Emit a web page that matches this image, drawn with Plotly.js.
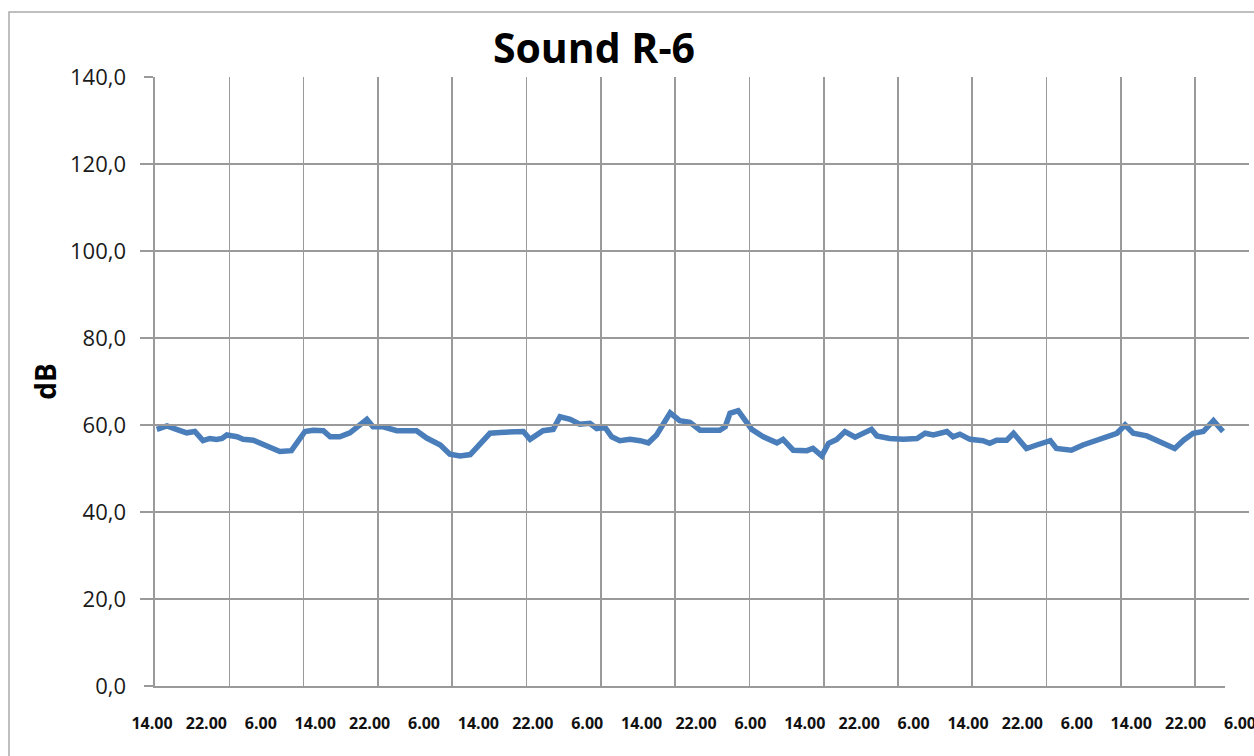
<!DOCTYPE html>
<html>
<head>
<meta charset="utf-8">
<script src="https://cdn.plot.ly/plotly-3.0.1.min.js"></script>
<style>html,body{margin:0;padding:0;background:#fff;}#chart{width:1254px;height:756px;}</style>
</head>
<body>
<div id="chart"></div>
<script>
// Sample times in hours since the first 14.00 mark
const hours = [0.7,2.2,3.6,5.1,6.3,7.1,7.5,8.5,9.5,10.3,11.0,12.5,13.4,14.9,16.4,17.8,18.8,20.5,21.3,22.5,
  23.7,25.2,26.2,27.6,29.1,30.6,31.6,32.5,34.0,36.0,38.9,40.4,42.4,43.8,45.3,46.8,47.8,49.7,51.2,52.6,
  54.6,55.6,56.6,57.5,59.0,60.0,61.5,62.9,64.4,65.4,66.6,67.6,68.8,70.3,71.8,73.0,74.2,75.2,76.2,77.6,
  79.1,80.6,82.1,83.5,84.3,85.0,86.2,87.2,88.2,89.9,91.9,92.8,94.3,96.3,97.2,98.5,99.5,100.7,101.9,103.4,
  104.6,105.8,106.6,108.5,110.5,112.5,113.7,114.9,116.9,117.8,118.8,120.3,122.2,123.2,124.2,125.7,126.7,127.6,128.6,130.1,
  132.1,133.0,135.2,136.9,138.9,140.9,141.9,143.1,144.3,146.3,148.2,150.4,151.7,153.1,154.6,156.1,157.1,157.5];
const soundDb = [59.0,59.8,59.0,58.2,58.5,57.3,56.4,56.9,56.7,56.9,57.7,57.3,56.7,56.5,55.6,54.6,53.9,54.1,55.8,58.5,
  58.8,58.7,57.3,57.3,58.2,60.2,61.3,59.6,59.6,58.7,58.7,57.0,55.4,53.3,52.9,53.2,55.0,58.1,58.3,58.3,
  58.5,56.7,57.7,58.7,59.0,61.9,61.3,60.2,60.4,59.2,59.5,57.3,56.4,56.7,56.4,55.9,57.7,60.4,62.8,61.0,
  60.6,58.8,58.8,58.8,59.6,62.7,63.3,61.2,59.0,57.3,55.9,56.7,54.2,54.1,54.6,52.9,55.8,56.7,58.5,57.2,
  58.1,59.0,57.5,56.9,56.7,56.9,58.1,57.7,58.5,57.3,57.9,56.7,56.4,55.8,56.5,56.5,58.1,56.5,54.6,55.4,
  56.4,54.6,54.2,55.4,56.4,57.5,58.1,60.0,58.1,57.5,56.2,54.6,56.5,58.1,58.5,61.0,59.2,58.5];
// Category tick labels every 8 hours
const labelHours = [0,8,16,24,32,40,48,56,64,72,80,88,96,104,112,120,128,136,144,152,160];
const labelText = ["14.00","22.00","6.00","14.00","22.00","6.00","14.00","22.00","6.00","14.00","22.00",
  "6.00","14.00","22.00","6.00","14.00","22.00","6.00","14.00","22.00","6.00"];
const chartTitle = "Sound R-6";
const yTitle = "dB";

const grid = '#9a9a9a';
const data = [
  {x: hours, y: soundDb, type: 'scatter', mode: 'lines', xaxis: 'x', yaxis: 'y',
   line: {color: '#4a7ebb', width: 5.5}, showlegend: false, hoverinfo: 'skip'},
  {x: [null], y: [null], type: 'scatter', mode: 'lines', xaxis: 'x2', yaxis: 'y',
   showlegend: false, hoverinfo: 'skip'}
];
const mL = 140, mR = 5;
const plotW = 1254 - mL - mR;
const pxPerHour = 6.8;
const layout = {
  width: 1254, height: 756,
  paper_bgcolor: '#ffffff', plot_bgcolor: 'rgba(0,0,0,0)',
  separators: ',.',
  margin: {l: mL, r: mR, t: 77, b: 70},
  showlegend: false,
  title: {text: chartTitle, x: 594/1254, xref: 'container', xanchor: 'center',
          y: 1 - 49/756, yref: 'container', yanchor: 'middle',
          font: {family: 'Open Sans', size: 41, color: '#000', weight: 'bold'}},
  xaxis: {domain: [(155 - mL)/plotW, (1225 - mL)/plotW], range: [3/pxPerHour, 1073/pxPerHour],
          showgrid: true, gridcolor: grid, gridwidth: 1.6,
          tick0: 3/pxPerHour, dtick: 74.3/pxPerHour, showticklabels: false, ticks: '', zeroline: false,
          showline: true, linecolor: grid, linewidth: 1.6},
  xaxis2: {domain: [0, 1], range: [(mL - 152)/pxPerHour, (mL - 152 + plotW)/pxPerHour], anchor: 'y',
           showgrid: false, zeroline: false, showline: false, ticks: '',
           tickmode: 'array', tickvals: labelHours, ticktext: labelText,
           ticklabelstandoff: 26, ticklabeloverflow: 'allow',
           tickfont: {family: 'Open Sans', size: 16, color: '#111', weight: 'bold'}},
  yaxis: {anchor: 'x', range: [0, 140], dtick: 20, tick0: 0, tickformat: '.1f', showgrid: true, gridcolor: grid, gridwidth: 1.6,
          zeroline: false, showline: true, linecolor: grid, linewidth: 1.6,
          ticks: 'outside', ticklen: 9, tickwidth: 1.6, tickcolor: grid, ticklabelstandoff: 14,
          tickfont: {family: 'Open Sans', size: 22, color: '#1a1a1a'},
          title: {text: yTitle, standoff: 5, font: {family: 'Open Sans', size: 28, color: '#000', weight: 'bold'}}},
  shapes: [
    {type: 'rect', xref: 'paper', yref: 'paper', x0: (9 - mL)/plotW, x1: 1.2, y0: -0.3, y1: (686 - 12)/609,
     line: {color: '#aaaaaa', width: 1.5}, fillcolor: 'rgba(0,0,0,0)', layer: 'below'}
  ]
};
Plotly.newPlot('chart', data, layout, {displayModeBar: false, staticPlot: true});
</script>
</body>
</html>
